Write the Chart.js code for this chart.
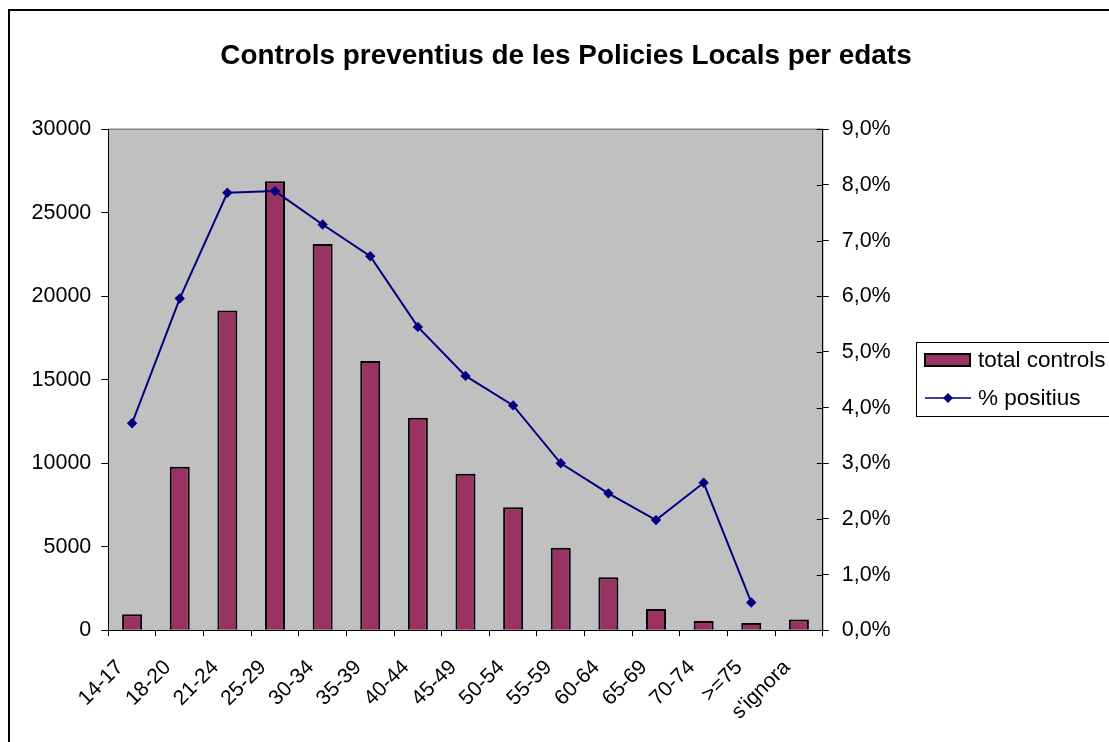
<!DOCTYPE html>
<html>
<head>
<meta charset="utf-8">
<script src="https://cdn.jsdelivr.net/npm/chart.js@4"></script>
<style>
  html, body { margin: 0; padding: 0; background: #fff; overflow: hidden; }
  #wrap { position: absolute; left: 0; top: 0; width: 1109px; height: 742px; }
</style>
</head>
<body>
<div id="wrap"><canvas id="c"></canvas></div>
<script>
const titleText = "Controls preventius de les Policies Locals per edats";
const categories = ['14-17','18-20','21-24','25-29','30-34','35-39','40-44','45-49','50-54','55-59','60-64','65-69','70-74','>=75',"s'ignora"];
const totalControls = [960, 9800, 19150, 26890, 23130, 16130, 12730, 9380, 7370, 4950, 3170, 1280, 560, 440, 640];
const pctPositius = [3.72, 5.96, 7.86, 7.89, 7.29, 6.72, 5.45, 4.57, 4.04, 3.00, 2.46, 1.98, 2.65, 0.50, null];
const leftTicks = { min: 0, max: 30000, step: 5000 };
const rightTicks = { min: 0, max: 9, step: 1 };
const seriesNames = ['total controls', '% positius'];

const FONT = "'Liberation Sans', Arial, sans-serif";
const PLOT = { left: 108.3, right: 822.7, top: 129.3, bottom: 630.3 };
const W = 1109, H = 742;

const framePlugin = {
  id: 'frame',
  beforeDraw(chart) {
    const ctx = chart.ctx, a = chart.chartArea;
    ctx.save();
    ctx.fillStyle = '#fff';
    ctx.fillRect(0, 0, chart.width, chart.height);
    ctx.strokeStyle = '#000';
    ctx.lineWidth = 2;
    ctx.strokeRect(9, 10, chart.width + 20, chart.height + 20);
    ctx.fillStyle = '#C0C0C0';
    ctx.fillRect(a.left, a.top, a.right - a.left, a.bottom - a.top);
    ctx.strokeStyle = '#808080';
    ctx.lineWidth = 1.5;
    ctx.beginPath();
    ctx.moveTo(a.left, a.top); ctx.lineTo(a.right, a.top); ctx.lineTo(a.right, a.bottom);
    ctx.stroke();
    ctx.restore();
  },
  afterDraw(chart) {
    const ctx = chart.ctx;
    ctx.save();
    const y1 = chart.scales.y1;
    ctx.strokeStyle = '#000';
    ctx.lineWidth = 1;
    y1.ticks.forEach((t) => {
      const py = Math.round(y1.getPixelForValue(t.value)) + 0.5;
      ctx.beginPath(); ctx.moveTo(y1.left - 6, py); ctx.lineTo(y1.left, py); ctx.stroke();
    });
    ctx.fillStyle = '#000';
    ctx.font = 'bold 27.9px ' + FONT;
    ctx.textAlign = 'center';
    ctx.textBaseline = 'middle';
    ctx.fillText(titleText, 566, 56);
    const ds = chart.data.datasets;
    ctx.strokeStyle = '#000';
    ctx.lineWidth = 1;
    ctx.strokeRect(916.5, 342.5, 250, 74);
    ctx.fillStyle = ds[0].backgroundColor;
    ctx.fillRect(925, 354, 45, 12);
    ctx.lineWidth = 2;
    ctx.strokeRect(925, 354, 45, 12);
    ctx.strokeStyle = ds[1].borderColor;
    ctx.lineWidth = 1.5;
    ctx.beginPath(); ctx.moveTo(925, 398); ctx.lineTo(971, 398); ctx.stroke();
    ctx.fillStyle = ds[1].pointBackgroundColor;
    const cx = 948, cy = 398, r = 5;
    ctx.beginPath(); ctx.moveTo(cx, cy - r); ctx.lineTo(cx + r, cy); ctx.lineTo(cx, cy + r); ctx.lineTo(cx - r, cy); ctx.closePath(); ctx.fill();
    ctx.fillStyle = '#000';
    ctx.font = '22.5px ' + FONT;
    ctx.textAlign = 'left';
    ctx.fillText(seriesNames[0], 978, 361);
    ctx.fillText(seriesNames[1], 978, 399);
    ctx.restore();
  }
};

new Chart(document.getElementById('c'), {
  type: 'bar',
  data: {
    labels: categories,
    datasets: [
      {
        type: 'bar', label: seriesNames[0], data: totalControls, yAxisID: 'y', order: 1,
        backgroundColor: '#993366', borderColor: '#000', borderWidth: 2,
        barPercentage: 0.42, categoryPercentage: 1.0
      },
      {
        type: 'line', label: seriesNames[1], data: pctPositius, yAxisID: 'y1', order: 0,
        borderColor: '#000080', backgroundColor: '#000080', borderWidth: 2, tension: 0,
        pointStyle: 'rectRot', pointRadius: 5.2, pointBackgroundColor: '#000080', pointBorderColor: '#000080', pointBorderWidth: 0
      }
    ]
  },
  options: {
    responsive: true, maintainAspectRatio: false, animation: false,
    layout: { padding: { top: PLOT.top, left: 0, right: 0, bottom: 0 } },
    plugins: { legend: { display: false }, title: { display: false }, tooltip: { enabled: false } },
    scales: {
      x: {
        offset: true,
        grid: { display: true, drawOnChartArea: false, drawTicks: true, tickLength: 6, color: '#000', offset: true },
        border: { display: true, color: '#000', width: 1 },
        ticks: { color: '#000', font: { family: FONT, size: 21 }, minRotation: 45, maxRotation: 45, autoSkip: false, padding: 19, labelOffset: -12 },
        afterFit(s) { s.height = H - PLOT.bottom; }
      },
      y: {
        position: 'left', min: leftTicks.min, max: leftTicks.max,
        grid: { display: true, drawOnChartArea: false, drawTicks: true, tickLength: 7, color: '#000' },
        border: { display: true, color: '#000', width: 1 },
        ticks: { stepSize: leftTicks.step, color: '#000', font: { family: FONT, size: 21.5 }, padding: 10,
          callback: (v) => String(v) },
        afterFit(s) { s.width = PLOT.left; }
      },
      y1: {
        position: 'right', min: rightTicks.min, max: rightTicks.max,
        grid: { display: true, drawOnChartArea: false, drawTicks: true, tickLength: 6, color: '#000' },
        border: { display: true, color: '#000', width: 1 },
        ticks: { stepSize: rightTicks.step, color: '#000', font: { family: FONT, size: 21.5 }, padding: 13,
          callback: (v) => v.toFixed(1).replace('.', ',') + '%' },
        afterFit(s) { s.width = W - PLOT.right; }
      }
    }
  },
  plugins: [framePlugin]
});
</script>
</body>
</html>
